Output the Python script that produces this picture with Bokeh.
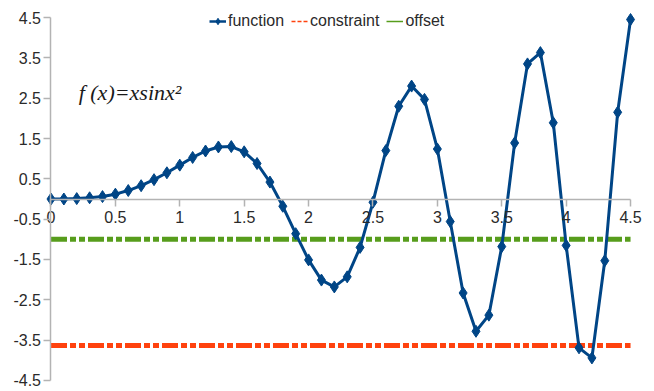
from bokeh.plotting import figure
from bokeh.models import FixedTicker, Label, Legend, LegendItem, Range1d
from bokeh.embed import file_html
from bokeh.resources import INLINE

x_vals = [0.0, 0.1, 0.2, 0.3, 0.4, 0.5, 0.6, 0.7, 0.8, 0.9,
          1.0, 1.1, 1.2, 1.3, 1.4, 1.5, 1.6, 1.7, 1.8, 1.9,
          2.0, 2.1, 2.2, 2.3, 2.4, 2.5, 2.6, 2.7, 2.8, 2.9,
          3.0, 3.1, 3.2, 3.3, 3.4, 3.5, 3.6, 3.7, 3.8, 3.9,
          4.0, 4.1, 4.2, 4.3, 4.4, 4.5]
function_vals = [0.0, 0.0, 0.01, 0.03, 0.06, 0.12, 0.21, 0.33, 0.48, 0.65,
                 0.84, 1.03, 1.19, 1.29, 1.30, 1.17, 0.88, 0.42, -0.18, -0.86,
                 -1.51, -2.01, -2.18, -1.93, -1.20, -0.08, 1.20, 2.30, 2.80, 2.47,
                 1.24, -0.56, -2.33, -3.28, -2.88, -1.18, 1.39, 3.35, 3.63, 1.89,
                 -1.15, -3.69, -3.94, -1.53, 2.15, 4.45]
constraint_val = -3.63
offset_val = -1.0
constraint_vals = [constraint_val] * len(x_vals)
offset_vals = [offset_val] * len(x_vals)

x_ticks = [0, 0.5, 1, 1.5, 2, 2.5, 3, 3.5, 4, 4.5]
x_tick_labels = ["0", "0.5", "1", "1.5", "2", "2.5", "3", "3.5", "4", "4.5"]
y_ticks = [-4.5, -3.5, -2.5, -1.5, -0.5, 0.5, 1.5, 2.5, 3.5, 4.5]
y_tick_labels = ["-4.5", "-3.5", "-2.5", "-1.5", "-0.5", "0.5", "1.5", "2.5", "3.5", "4.5"]

BLUE = "#004586"
RED = "#ff420e"
GREEN = "#579d1c"
AXIS = "#b3b3b3"
TXT = "#2a2a2a"
FONT = "Liberation Sans"
NAN = float("nan")

p = figure(width=654, height=391, output_backend="svg", toolbar_location=None,
           x_range=Range1d(-0.392, 4.686), y_range=Range1d(-4.773, 4.922),
           min_border_left=0, min_border_right=0, min_border_top=0, min_border_bottom=0)
p.outline_line_color = None
p.xgrid.visible = False
p.ygrid.visible = False

DASH = "16 3 6 3 6 3"
r_off = p.line(x_vals, offset_vals, line_color=GREEN, line_width=5, line_dash=DASH)
r_con = p.line(x_vals, constraint_vals, line_color=RED, line_width=5, line_dash=DASH)
r_fn = p.line(x_vals, function_vals, line_color=BLUE, line_width=3)
r_fm = p.scatter(x_vals, function_vals, marker="diamond", size=12, fill_color=BLUE, line_color=BLUE)

# legend-only glyph samples (nothing drawn in the plot area)
lg_fn = p.line([NAN], [NAN], line_color=BLUE, line_width=2.5)
lg_fm = p.scatter([NAN], [NAN], marker="diamond", size=10, fill_color=BLUE, line_color=BLUE)
lg_con = p.line([NAN], [NAN], line_color=RED, line_width=1.5, line_dash="4 2")
lg_off = p.line([NAN], [NAN], line_color=GREEN, line_width=1.5)

# axes crossing at the origin
p.xaxis.fixed_location = 0
p.yaxis.fixed_location = 0
p.xaxis.bounds = (0, 4.5)
p.yaxis.bounds = (-4.5, 4.5)
p.xaxis.ticker = FixedTicker(ticks=x_ticks)
p.xaxis.major_label_overrides = {t: l for t, l in zip(x_ticks, x_tick_labels)}
p.yaxis.ticker = FixedTicker(ticks=y_ticks)
p.yaxis.major_label_overrides = {t: l for t, l in zip(y_ticks, y_tick_labels)}
for ax in (p.xaxis, p.yaxis):
    ax.axis_line_color = AXIS
    ax.axis_line_width = 1.5
    ax.major_tick_line_color = AXIS
    ax.major_tick_line_width = 1.5
    ax.major_tick_in = 0
    ax.major_tick_out = 7
    ax.minor_tick_line_color = None
    ax.major_label_text_font = FONT
    ax.major_label_text_font_size = "16px"
    ax.major_label_text_color = TXT
p.xaxis.major_label_standoff = 5
p.yaxis.major_label_standoff = 3

legend = Legend(items=[
    LegendItem(label="function", renderers=[lg_fn, lg_fm]),
    LegendItem(label="constraint", renderers=[lg_con]),
    LegendItem(label="offset", renderers=[lg_off]),
], orientation="horizontal", location=(209, 361))
legend.background_fill_alpha = 0
legend.border_line_color = None
legend.label_text_font = FONT
legend.label_text_font_size = "16px"
legend.label_text_color = TXT
legend.glyph_width = 17
legend.glyph_height = 16
legend.label_height = 16
legend.label_standoff = 2
legend.spacing = 7
legend.padding = 0
legend.margin = 0
p.add_layout(legend, "center")

p.add_layout(Label(x=0.215, y=2.63, text="f (x)=xsinx²", text_font="Liberation Serif",
                   text_font_style="italic", text_font_size="22px", text_color="#1a1a1a",
                   text_baseline="middle"))

open("out.html", "w").write(file_html(p, INLINE))
